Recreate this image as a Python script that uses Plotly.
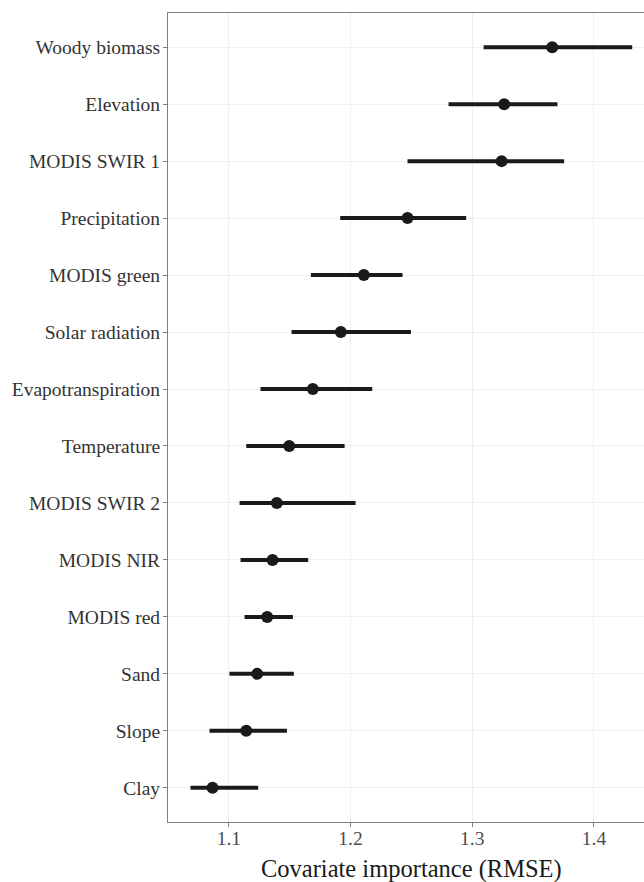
import plotly.graph_objects as go

covariates = ["Woody biomass", "Elevation", "MODIS SWIR 1", "Precipitation", "MODIS green",
              "Solar radiation", "Evapotranspiration", "Temperature", "MODIS SWIR 2",
              "MODIS NIR", "MODIS red", "Sand", "Slope", "Clay"]
rmse = [1.3657, 1.3262, 1.3241, 1.2468, 1.2109, 1.1920, 1.1690, 1.1496, 1.1394,
        1.1359, 1.1315, 1.1233, 1.1143, 1.0866]
lower = [1.3093, 1.2805, 1.2468, 1.1915, 1.1674, 1.1515, 1.1260, 1.1143, 1.1088,
         1.1096, 1.1129, 1.1005, 1.0841, 1.0685]
upper = [1.4314, 1.3700, 1.3755, 1.2950, 1.2427, 1.2496, 1.2178, 1.1951, 1.2041,
         1.1652, 1.1526, 1.1534, 1.1477, 1.1241]
x_ticks = [1.1, 1.2, 1.3, 1.4]
x_ticklabels = ["1.1", "1.2", "1.3", "1.4"]
x_title = "Covariate importance (RMSE)"

err_plus = [u - m for u, m in zip(upper, rmse)]
err_minus = [m - l for m, l in zip(rmse, lower)]

FONT = "Liberation Serif, Times New Roman, serif"

fig = go.Figure()
fig.add_trace(go.Scatter(
    x=rmse, y=covariates, mode="markers",
    marker=dict(size=12, color="#1a1a1a"),
    error_x=dict(type="data", symmetric=False, array=err_plus, arrayminus=err_minus,
                 thickness=4, width=0, color="#1a1a1a"),
    showlegend=False,
))

fig.update_layout(
    width=644, height=882,
    margin=dict(l=168, r=0, t=13, b=60, pad=0, autoexpand=False),
    plot_bgcolor="white", paper_bgcolor="white",
    font=dict(family=FONT, color="#333333"),
)
fig.add_annotation(
    text=x_title, xref="paper", yref="paper", x=0.5, y=0,
    xanchor="center", yanchor="middle", xshift=5, yshift=-47, showarrow=False,
    font=dict(size=24.5, color="#1a1a1a", family=FONT),
)
fig.update_xaxes(
    range=[1.05, 1.4411], tickvals=x_ticks, ticktext=x_ticklabels,
    automargin=False,
    showgrid=True, gridcolor="#efefef", gridwidth=1, zeroline=False,
    showline=True, linecolor="#7f7f7f", linewidth=1, mirror=True,
    ticks="outside", ticklen=4, tickcolor="#7f7f7f",
    ticklabelstandoff=-5,
    tickfont=dict(size=19.5, color="#4d4d4d", family=FONT),
)
fig.update_yaxes(
    type="category", categoryorder="array", categoryarray=covariates[::-1],
    range=[-0.6, 13.6], automargin=False,
    showgrid=True, gridcolor="#efefef", gridwidth=1, zeroline=False,
    showline=True, linecolor="#7f7f7f", linewidth=1, mirror=False,
    ticks="outside", ticklen=4, tickcolor="#7f7f7f",
    ticklabelstandoff=-1,
    tickfont=dict(size=19.5, color="#333333", family=FONT),
)

fig.write_html(
    "out.html",
    config={"displayModeBar": False},
    post_script="document.body.style.margin='0';document.body.style.padding='0';"
                "document.body.style.overflow='hidden';",
)
